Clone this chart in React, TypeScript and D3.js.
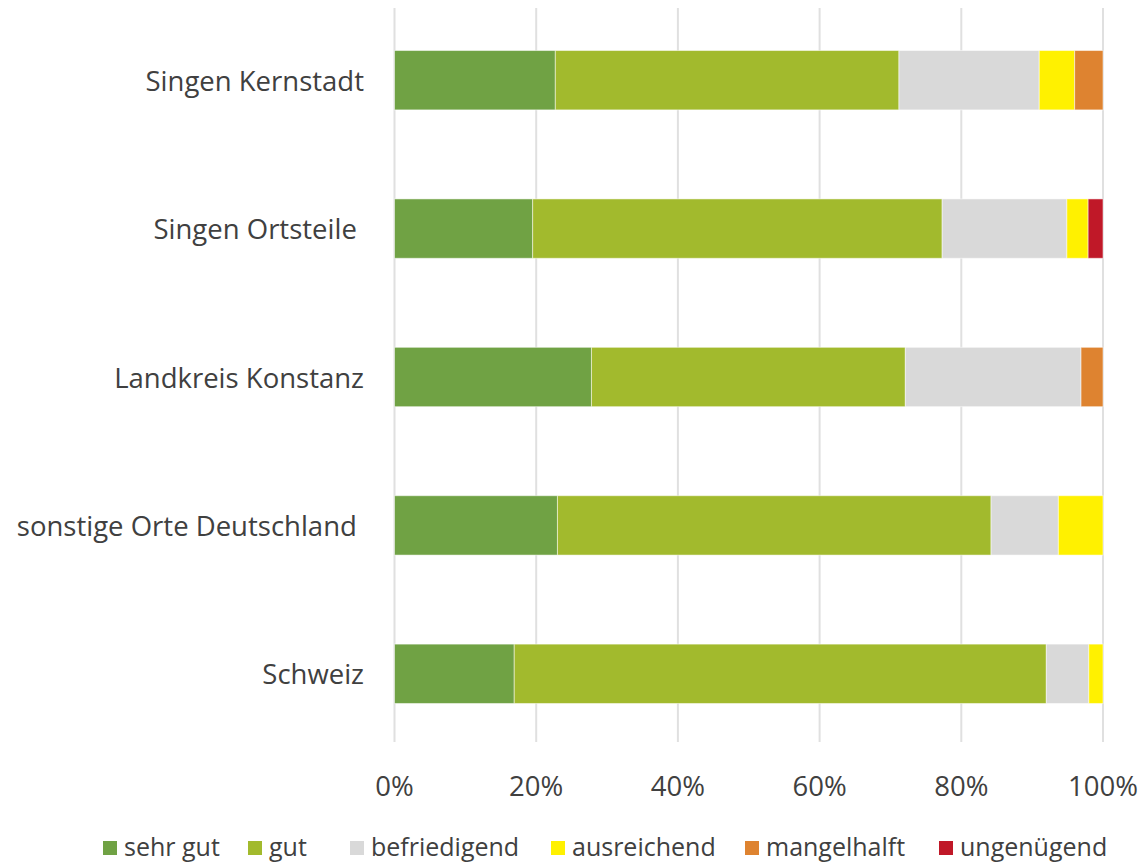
import React from "react";
import * as d3 from "d3";

const categories = ["Singen Kernstadt", "Singen Ortsteile ", "Landkreis Konstanz", "sonstige Orte Deutschland ", "Schweiz"];
const seriesNames = ["sehr gut", "gut", "befriedigend", "ausreichend", "mangelhalft", "ungenügend"];
const seriesColors = ["#70A244", "#A2BA2D", "#D9D9D9", "#FFF100", "#DE8330", "#C01828"];
const sehrGut = [22.7, 19.5, 27.8, 23.0, 16.9];
const gut = [48.5, 57.8, 44.3, 61.2, 75.1];
const befriedigend = [19.8, 17.6, 24.8, 9.5, 6.0];
const ausreichend = [5.0, 3.0, 0, 6.3, 2.0];
const mangelhaft = [4.0, 0, 3.1, 0, 0];
const ungenuegend = [0, 2.1, 0, 0, 0];
const tickValues = [0, 20, 40, 60, 80, 100];

const seriesValues = [sehrGut, gut, befriedigend, ausreichend, mangelhaft, ungenuegend];
const font = "Open Sans, sans-serif";

export default function App() {
  const W = 1142, H = 862;
  const x = d3.scaleLinear().domain([0, 100]).range([394.5, 1103]);
  const y = d3.scaleBand().domain(categories).range([6, 748]).paddingInner(0.6).paddingOuter(0.3);
  const rows = categories.map((c, i) => {
    const vals = seriesValues.map((s) => s[i]);
    const total = d3.sum(vals);
    let acc = 0;
    return vals.map((v, j) => {
      const start = acc;
      acc += (v / total) * 100;
      return { cat: c, j, x0: start, x1: acc };
    });
  });
  const legendX = [103, 248, 350, 551, 745, 939];
  return (
    <svg width={W} height={H} style={{ position: "absolute", left: 0, top: 0, background: "#fff" }}>
      {tickValues.map((t) => (
        <line key={t} x1={x(t)} x2={x(t)} y1={8} y2={742} stroke="#E0E0E0" strokeWidth={2} />
      ))}
      {rows.map((r) =>
        r.filter((s) => s.x1 - s.x0 > 0).map((s) => (
          <rect key={s.cat + s.j} x={x(s.x0)} width={x(s.x1) - x(s.x0)} y={y(s.cat)} height={y.bandwidth()}
            fill={seriesColors[s.j]} stroke="#fff" strokeOpacity={0.5} strokeWidth={1} />
        ))
      )}
      {categories.map((c) => (
        <text key={c} x={364} y={(y(c) as number) + y.bandwidth() / 2} textAnchor="end" dominantBaseline="central"
          fontFamily={font} fontSize={27.5} fill="#404040" style={{ whiteSpace: "pre" }}>{c}</text>
      ))}
      {tickValues.map((t) => (
        <text key={t} x={x(t)} y={785} textAnchor="middle" dominantBaseline="central" fontFamily={font} fontSize={27.5} fill="#404040">{t}%</text>
      ))}
      {seriesNames.map((n, i) => (
        <g key={n}>
          <rect x={legendX[i]} y={841} width={14} height={14} fill={seriesColors[i]} />
          <text x={legendX[i] + 21} y={846} dominantBaseline="central" fontFamily={font} fontSize={25} fill="#404040">{n}</text>
        </g>
      ))}
    </svg>
  );
}
